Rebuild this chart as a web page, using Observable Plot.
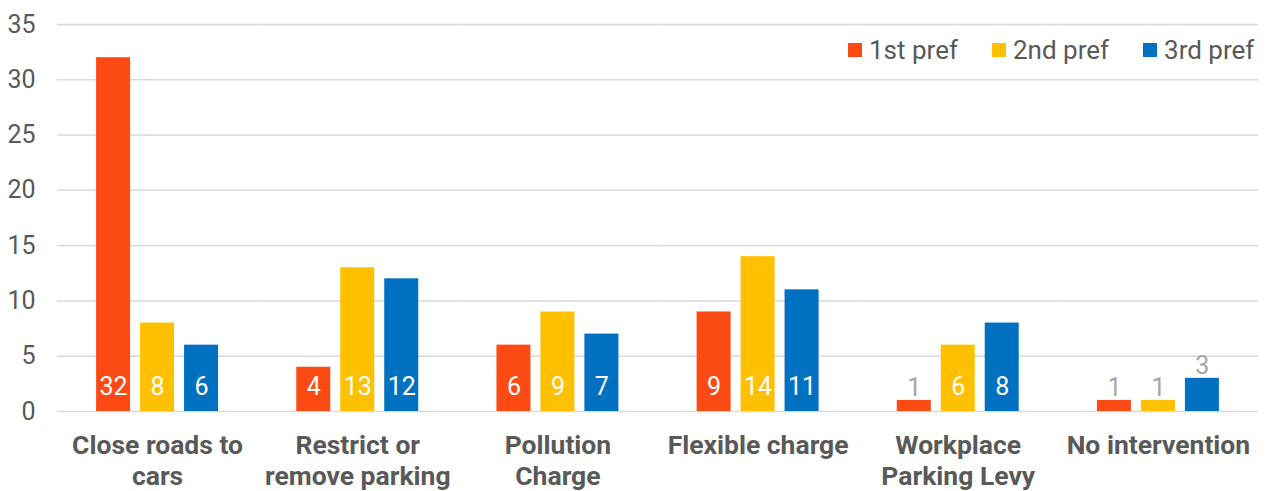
<!DOCTYPE html>
<html>
<head>
<meta charset="utf-8">
<script src="https://cdn.jsdelivr.net/npm/d3@7"></script>
<script src="https://cdn.jsdelivr.net/npm/@observablehq/plot@0.6"></script>
<style>
  html, body { margin: 0; padding: 0; background: #fff; }
  #wrap { position: relative; width: 1271px; height: 491px; font-family: Roboto, sans-serif; }
  #legend { position: absolute; left: 848px; top: 35px; display: flex; font-size: 26px; line-height: 30px; color: #595959; white-space: nowrap; width: 423px; }
  #legend .item { display: flex; align-items: center; margin-right: 34px; flex: none; }
  #legend .sw { width: 14px; height: 14px; margin-right: 7px; flex: none; }
</style>
</head>
<body>
<div id="wrap"><div id="legend"></div></div>
<script>
const categories = ["Close roads to\ncars", "Restrict or\nremove parking", "Pollution\nCharge", "Flexible charge", "Workplace\nParking Levy", "No intervention"];
const seriesNames = ["1st pref", "2nd pref", "3rd pref"];
const firstPref = [32, 4, 6, 9, 1, 1];
const secondPref = [8, 13, 9, 14, 6, 1];
const thirdPref = [6, 12, 7, 11, 8, 3];
const colors = ["#FC4A14", "#FFC000", "#0070C0"];
const yTicks = [0, 5, 10, 15, 20, 25, 30, 35];

const seriesValues = [firstPref, secondPref, thirdPref];
const data = [];
categories.forEach((c, i) => seriesNames.forEach((s, j) => data.push({category: c, series: s, value: seriesValues[j][i]})));

const inside = data.filter(d => d.value >= 4);
const outside = data.filter(d => d.value < 4);

const chart = Plot.plot({
  width: 1271,
  height: 491,
  marginLeft: 57,
  marginRight: 13,
  marginTop: 24,
  marginBottom: 80,
  style: {fontFamily: "Roboto, sans-serif", background: "white"},
  fx: {domain: categories, paddingInner: 0, paddingOuter: 0, round: false, label: null},
  x: {domain: seriesNames, paddingInner: 0.227, paddingOuter: 0.889, round: false, axis: null},
  y: {domain: [0, 35], label: null},
  color: {domain: seriesNames, range: colors},
  marks: [
    Plot.gridY(yTicks, {stroke: "#D9D9D9", strokeOpacity: 1, strokeWidth: 1.5}),
    Plot.axisY(yTicks, {tickSize: 0, tickPadding: 22, fontSize: 25, color: "#595959", label: null}),
    Plot.axisFx({anchor: "bottom", tickSize: 0, tickPadding: 20, fontSize: 26.5, fontWeight: "bold", color: "#595959", lineHeight: 1.17, label: null}),
    Plot.barY(data, {fx: "category", x: "series", y: "value", fill: "series"}),
    Plot.text(inside, {fx: "category", x: "series", y: 0, text: d => String(d.value), dy: -25, fill: "white", fontSize: 25}),
    Plot.text(outside, {fx: "category", x: "series", y: "value", text: d => String(d.value), dy: -12, fill: "#A6A6A6", fontSize: 25})
  ]
});
document.getElementById("wrap").prepend(chart);

const legend = document.getElementById("legend");
seriesNames.forEach((s, j) => {
  const item = document.createElement("div");
  item.className = "item";
  const sw = document.createElement("div");
  sw.className = "sw";
  sw.style.background = colors[j];
  const t = document.createElement("span");
  t.textContent = s;
  item.append(sw, t);
  legend.append(item);
});
</script>
</body>
</html>
